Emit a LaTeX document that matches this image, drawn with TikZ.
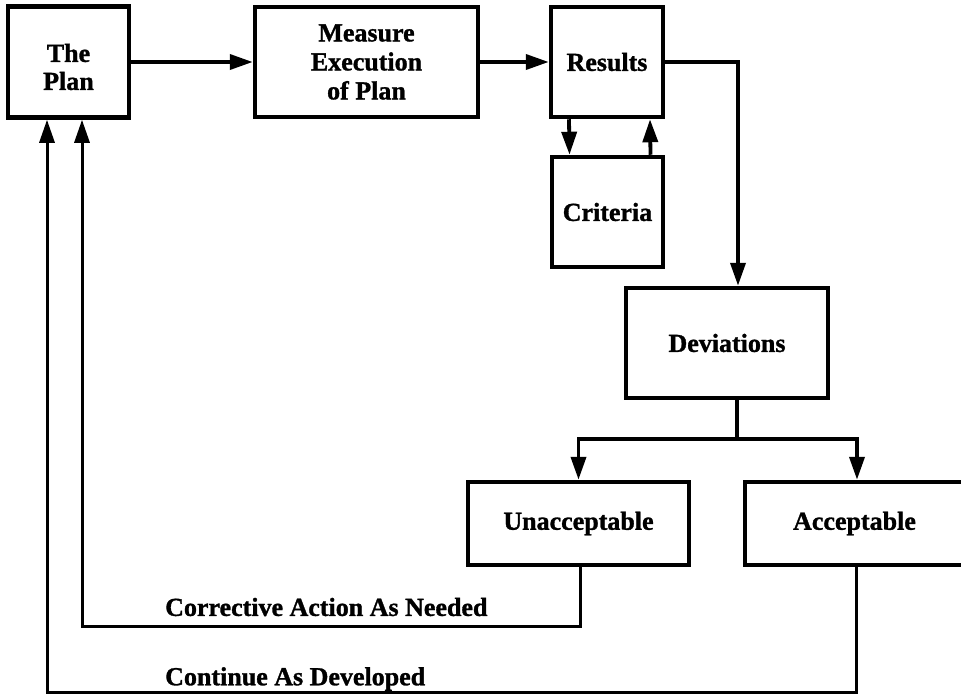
\documentclass[tikz,border=0pt]{standalone}
\usepackage{fontspec}
\setmainfont[BoldFeatures={FakeBold=1.2}]{Liberation Serif}
\usetikzlibrary{arrows.meta}
\begin{document}
\begin{tikzpicture}[x=1pt,y=-1pt,
  txt/.style={font=\fontsize{26}{29}\selectfont\bfseries},
  box/.style={txt, draw, line width=4.5pt, align=center, inner sep=0pt},
  link/.style={line width=3.8pt, -{Triangle[length=23pt,width=15pt]}},
  wire/.style={line width=3.8pt},
  back/.style={line width=3pt, -{Triangle[length=23pt,width=15pt]}},
  lbl/.style={txt, anchor=west, inner sep=0pt}]
\useasboundingbox (0,0) rectangle (961,699);
\clip (0,0) rectangle (961,699);

% boxes
\node[box, minimum width=121pt, minimum height=111pt] (plan) at (68.5,62) {};
\node[txt, align=center, inner sep=0pt, font=\fontsize{26}{28}\selectfont\bfseries] (plantext) at (68.5,67) {The\\Plan};
\node[box, minimum width=223pt, minimum height=110pt] (measure) at (366.5,62) {Measure\\Execution\\of Plan};
\node[box, minimum width=112pt, minimum height=110pt] (results) at (607,62) {Results};
\node[box, minimum width=111pt, minimum height=110pt] (criteria) at (607.5,212) {Criteria};
\node[box, minimum width=202pt, minimum height=110pt] (dev) at (727,343) {Deviations};
\node[box, minimum width=221pt, minimum height=83pt] (unacc) at (578.5,523.5) {Unacceptable};
\node[box, minimum width=219pt, minimum height=83pt] (acc) at (854.5,523.5) {Acceptable};

% forward flow
\draw[link] (plan) -- (measure);
\draw[link] (measure) -- (results);
\draw[link] ([xshift=-38pt]results.south) -- ([xshift=-38pt]criteria.north);
\draw[link] ([xshift=43pt]criteria.north) -- ([xshift=43pt]results.south);
\draw[link] (results.east) -| ([xshift=11pt]dev.north);

% split below deviations
\draw[wire] ([xshift=10pt]dev.south) -- ++(0,39) coordinate (split);
\draw[link] (split) -| (unacc.north);
\draw[link] (split) -| ([xshift=2.5pt]acc.north);

% feedback to the plan
\draw[back] ([xshift=1.5pt]unacc.south) |- ([xshift=13.5pt]plan.south |- 0,626) -- ([xshift=13.5pt]plan.south);
\draw[back] ([xshift=1.5pt]acc.south) |- ([xshift=-21.5pt]plan.south |- 0,692) -- ([xshift=-21.5pt]plan.south);

% feedback labels
\node[lbl] (corr) at (165,607) {Corrective Action As Needed};
\node[lbl] (cont) at (165,679) {Continue As Developed};
\end{tikzpicture}
\end{document}
